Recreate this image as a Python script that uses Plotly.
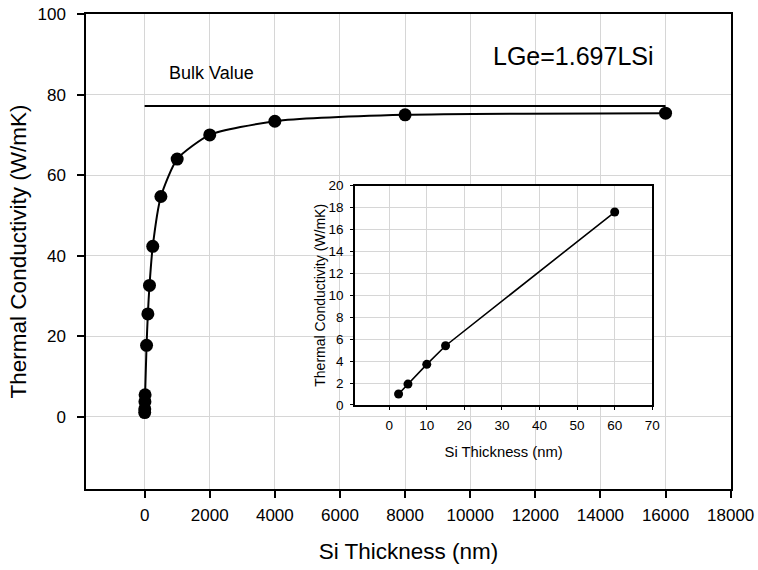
import plotly.graph_objects as go

# ---- data ----
thickness_nm = [2.5, 5, 10, 15, 60, 100, 150, 250, 500, 1000, 2000, 4000, 8000, 16000]
conductivity = [1.0, 1.9, 3.7, 5.4, 17.7, 25.5, 32.6, 42.3, 54.7, 64.0, 70.0, 73.4, 75.0, 75.4]

inset_thickness = [2.5, 5, 10, 15, 60]
inset_conductivity = [1.0, 1.9, 3.7, 5.4, 17.6]

bulk_value = 77.2
bulk_x = [0, 16000]

main_xticks = [0, 2000, 4000, 6000, 8000, 10000, 12000, 14000, 16000, 18000]
main_xlabels = [str(v) for v in main_xticks]
main_yticks = [0, 20, 40, 60, 80, 100]
inset_xticks = [0, 10, 20, 30, 40, 50, 60, 70]
inset_yticks = [0, 2, 4, 6, 8, 10, 12, 14, 16, 18, 20]

FONT = "Arial, Liberation Sans, sans-serif"
GRID = "#d6d6d6"

fig = go.Figure()

# bulk value line
fig.add_trace(go.Scatter(x=bulk_x, y=[bulk_value, bulk_value], mode="lines",
                         line=dict(color="black", width=2), showlegend=False,
                         xaxis="x", yaxis="y"))
# main curve
fig.add_trace(go.Scatter(x=thickness_nm, y=conductivity, mode="lines+markers",
                         line=dict(color="black", width=2, shape="spline", smoothing=0.6),
                         marker=dict(color="black", size=13),
                         showlegend=False, xaxis="x", yaxis="y"))
# inset
fig.add_trace(go.Scatter(x=inset_thickness, y=inset_conductivity, mode="lines+markers",
                         line=dict(color="black", width=1.6),
                         marker=dict(color="black", size=9),
                         showlegend=False, xaxis="x2", yaxis="y2"))

fig.update_layout(
    width=758, height=570,
    margin=dict(l=86, r=27, t=14, b=81),
    paper_bgcolor="white", plot_bgcolor="white",
    font=dict(family=FONT, color="black"),
    xaxis=dict(range=[-1800, 18010], tickvals=main_xticks, ticktext=main_xlabels,
               showgrid=True, gridcolor=GRID, gridwidth=1, zeroline=False,
               showline=True, linecolor="black", linewidth=1.5, mirror=True,
               ticks="outside", ticklen=7, tickcolor="black", tickwidth=1.5,
               tickfont=dict(size=17), ticklabelstandoff=3,
               title=dict(text="Si Thickness (nm)", font=dict(size=22.5), standoff=19),
               automargin=False, domain=[0, 1]),
    yaxis=dict(range=[-18, 100.05], tickvals=main_yticks,
               showgrid=True, gridcolor=GRID, gridwidth=1, zeroline=False,
               showline=True, linecolor="black", linewidth=1.5, mirror=True,
               ticks="outside", ticklen=7, tickcolor="black", tickwidth=1.5,
               tickfont=dict(size=17), ticklabelstandoff=8,
               title=dict(text="Thermal Conductivity (W/mK)", font=dict(size=22.5), standoff=5),
               automargin=False, domain=[0, 1]),
    xaxis2=dict(range=[-9.1, 70], tickvals=inset_xticks, anchor="y2",
                domain=[0.417, 0.878],
                showgrid=True, gridcolor=GRID, gridwidth=1, zeroline=False,
                showline=True, linecolor="black", linewidth=1.5, mirror=True,
                ticks="outside", ticklen=3, tickcolor="black",
                tickfont=dict(size=13.5), ticklabelstandoff=4,
                title=dict(text="Si Thickness (nm)", font=dict(size=14.8), standoff=15),
                automargin=False),
    yaxis2=dict(range=[0, 20], tickvals=inset_yticks, anchor="x2",
                domain=[0.177, 0.6385],
                showgrid=True, gridcolor=GRID, gridwidth=1, zeroline=False,
                showline=True, linecolor="black", linewidth=1.5, mirror=True,
                ticks="outside", ticklen=3, tickcolor="black",
                tickfont=dict(size=13.5), ticklabelstandoff=4,
                title=dict(text="Thermal Conductivity (W/mK)", font=dict(size=14), standoff=0),
                automargin=False),
    annotations=[
        dict(text="Bulk Value", x=2050, y=85.4, xref="x", yref="y", showarrow=False,
             font=dict(size=18)),
        dict(text="LGe=1.697LSi", x=13170, y=89.6, xref="x", yref="y", showarrow=False,
             font=dict(size=25)),
    ],
)

fig.write_html("out.html", config={"displayModeBar": False},
               post_script="document.body.style.margin='0';document.body.style.overflow='hidden';")
